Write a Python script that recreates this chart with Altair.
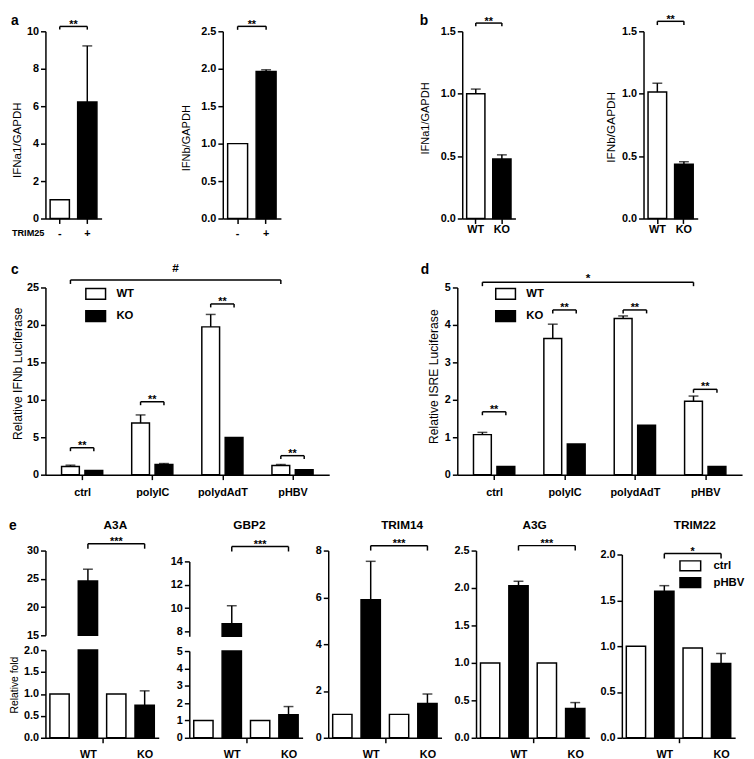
import altair as alt
import pandas as pd

FONT = "Liberation Sans"
BLACK = "black"
LW = 1.5

# ---------------- data ----------------
a_cats = ["-", "+"]
a1_vals = [1.0, 6.22]
a1_errs = [None, 9.22]
a2_vals = [1.0, 1.965]
a2_errs = [None, 1.986]

b_cats = ["WT", "KO"]
b1_vals = [1.0, 0.476]
b1_errs = [1.037, 0.51]
b2_vals = [1.013, 0.434]
b2_errs = [1.084, 0.455]

cd_groups = ["ctrl", "polyIC", "polydAdT", "pHBV"]
cd_geno = ["WT", "KO"]
c_wt = [1.10, 6.89, 19.74, 1.23]
c_wt_err = [1.27, 7.98, 21.40, 1.36]
c_ko = [0.57, 1.36, 4.96, 0.66]
c_ko_err = [None, 1.49, None, None]
c_pair_br = [3.6, 9.74, 22.8, 2.54]

d_wt = [1.07, 3.64, 4.17, 1.96]
d_wt_err = [1.13, 4.02, 4.24, 2.10]
d_ko = [0.22, 0.82, 1.32, 0.22]
d_ko_err = [None, None, None, None]
d_pair_br = [1.68, 4.40, 4.40, 2.28]

e_groups = ["WT", "KO"]
e_conds = ["ctrl", "pHBV"]
e_bar_grp = ["WT", "WT", "KO", "KO"]
e_bar_cond = ["ctrl", "pHBV", "ctrl", "pHBV"]
a3a_vals = [1.0, 24.6, 1.0, 0.74]
a3a_errs = [None, 26.7, None, 1.07]
gbp2_vals = [1.0, 8.65, 1.0, 1.33]
gbp2_errs = [None, 10.2, None, 1.80]
trim14_vals = [1.0, 5.9, 1.0, 1.47]
trim14_errs = [None, 7.54, None, 1.87]
a3g_vals = [1.0, 2.03, 1.0, 0.39]
a3g_errs = [None, 2.09, None, 0.47]
trim22_vals = [1.0, 1.60, 0.98, 0.81]
trim22_errs = [None, 1.66, None, 0.92]


# ---------------- helpers ----------------
def axis_common():
    return dict(domainColor=BLACK, domainWidth=LW, tickColor=BLACK, tickWidth=LW, tickSize=5,
                grid=False, labelFont=FONT, labelFontSize=11, labelFontWeight="bold",
                labelColor=BLACK, labelOverlap=False)


def y_axis(values, fmt, title=None, tx=0, ty=0, fs=12):
    kw = axis_common()
    kw.update(values=values, format=fmt, labelPadding=2, orient="left")
    if title is None:
        kw["title"] = None
    else:
        kw.update(title=title, titleX=tx, titleY=ty, titleAlign="center", titleBaseline="middle",
                  titleFont=FONT, titleFontSize=fs, titleFontWeight="normal", titleColor=BLACK)
    return alt.Axis(**kw)


def x_axis(pad=4, **extra):
    kw = axis_common()
    kw.update(title=None, labelAngle=0, labelPadding=pad, orient="bottom")
    kw.update(extra)
    return alt.Axis(**kw)


def letter(t, x, y):
    return alt.Chart(pd.DataFrame({"t": [t]})).mark_text(
        font=FONT, fontSize=14, fontWeight="bold", color=BLACK, align="left", baseline="top"
    ).encode(x=alt.value(x), y=alt.value(y), text="t:N")


def spacer(w, h=10):
    return alt.Chart(pd.DataFrame({"v": [0]})).mark_point(opacity=0).encode(
        x=alt.value(0), y=alt.value(0)).properties(width=w, height=h)


def row(*charts):
    return alt.hconcat(*charts, spacing=0, bounds="flush").resolve_scale(fill="independent")


def txt(df, **mk):
    props = dict(font=FONT, fontSize=11, fontWeight="bold", color=BLACK, baseline="alphabetic")
    props.update(mk)
    return alt.Chart(df).mark_text(**props)


def simple_panel(cats, vals, errs, ymax, yvals, yfmt, ytitle, tx, ty, tfs, width,
                 br_y, br_lo, let, xextra=None, xpad=4):
    pi, po = 0.3, 0.17
    step = width / (2 - pi + 2 * po)
    xsc = alt.Scale(domain=cats, paddingInner=pi, paddingOuter=po)
    xax = x_axis(pad=xpad, **(xextra or {}))
    ysc = alt.Scale(domain=[0, ymax], nice=False)
    yax = y_axis(yvals, yfmt, ytitle, tx, ty, tfs)

    def X(**kw):
        return alt.X("cat:N", scale=xsc, axis=xax, **kw)

    def Y(f):
        return alt.Y(f + ":Q", scale=ysc, axis=yax)

    df = pd.DataFrame({"cat": cats, "val": vals, "err": errs})
    bars = alt.Chart(df).mark_bar(stroke=BLACK, strokeWidth=LW).encode(
        x=X(), y=Y("val"),
        fill=alt.condition(alt.datum.cat == cats[0], alt.value("white"), alt.value("black")))
    edf = df.dropna(subset=["err"])
    erule = alt.Chart(edf).mark_rule(color=BLACK, strokeWidth=LW).encode(
        x=X(), y=Y("val"), y2=alt.Y2("err"))
    ecap = alt.Chart(edf).mark_tick(color=BLACK, thickness=LW, size=10).encode(x=X(), y=Y("err"))
    bdf = pd.DataFrame({"cat": [cats[0]], "cat2": [cats[1]], "by": [br_y]})
    brh = alt.Chart(bdf).mark_rule(color=BLACK, strokeWidth=LW).encode(
        x=X(), x2=alt.X2("cat2"), y=Y("by"))
    bedf = pd.DataFrame({"cat": cats, "by": [br_y] * 2, "blo": [br_lo] * 2})
    bre = alt.Chart(bedf).mark_rule(color=BLACK, strokeWidth=LW).encode(
        x=X(), y=Y("by"), y2=alt.Y2("blo"))
    sdf = pd.DataFrame({"cat": [cats[1]], "by": [br_y], "s": ["**"]})
    stars = txt(sdf, dy=2, dx=-pi * step / 2).encode(
        x=X(bandPosition=0), y=Y("by"), text="s:N")
    layers = [bars, erule, ecap, brh, bre, stars]
    if let is not None:
        layers.append(letter(*let))
    return alt.layer(*layers).properties(width=width, height=190)


def group_panel(wt, wt_err, ko, ko_err, pair_br, long_y, long_sym, long_dy, ymax, yvals,
                ytitle, tx, ty, width, lx, let):
    # one band per bar, with an empty band between treatment groups
    keys = []
    for i, g in enumerate(cd_groups):
        keys += [g + "|WT", g + "|KO"]
        if i < len(cd_groups) - 1:
            keys.append("gap%d" % i)
    pi, po = 0.24, 0.69
    step = width / (len(keys) - pi + 2 * po)
    half_gap = pi * step / 2
    xsc = alt.Scale(domain=keys, paddingInner=pi, paddingOuter=po)
    xax = x_axis(pad=7, values=[g + "|KO" for g in cd_groups], tickOffset=-step / 2,
                 labelExpr="split(datum.value, '|')[0]")
    ysc = alt.Scale(domain=[0, ymax], nice=False)
    yax = y_axis(yvals, "d", ytitle, tx, ty, 12.3)
    pxu = 190.0 / ymax

    def X(f="key", **kw):
        return alt.X(f + ":N", scale=xsc, axis=xax, **kw)

    def Y(f):
        return alt.Y(f + ":Q", scale=ysc, axis=yax)

    df = pd.DataFrame({"grp": cd_groups * 2, "geno": ["WT"] * 4 + ["KO"] * 4,
                       "val": wt + ko, "err": wt_err + ko_err})
    df["key"] = df["grp"] + "|" + df["geno"]
    leg = alt.Legend(title=None, orient="none", legendX=lx, legendY=-4.5, direction="vertical",
                     symbolType="M-1,-0.55H1V0.55H-1Z", symbolSize=400,
                     symbolStrokeColor=BLACK, symbolStrokeWidth=LW, labelFont=FONT,
                     labelFontSize=11.5, labelFontWeight="bold", labelColor=BLACK,
                     labelOffset=10, rowPadding=2.5, padding=0)
    bars = alt.Chart(df).mark_bar(stroke=BLACK, strokeWidth=LW).encode(
        x=X(), y=Y("val"),
        fill=alt.Fill("geno:N", scale=alt.Scale(domain=cd_geno, range=["white", "black"]),
                      legend=leg))
    edf = df.dropna(subset=["err"])
    erule = alt.Chart(edf).mark_rule(color=BLACK, strokeWidth=LW).encode(
        x=X(), y=Y("val"), y2=alt.Y2("err"))
    ecap = alt.Chart(edf).mark_tick(color=BLACK, thickness=LW, size=10).encode(
        x=X(), y=Y("err"))
    drop = 3.5 / pxu
    pb = pd.DataFrame({"key": [g + "|WT" for g in cd_groups],
                       "key2": [g + "|KO" for g in cd_groups], "by": pair_br, "s": ["**"] * 4})
    pair_h = alt.Chart(pb).mark_rule(color=BLACK, strokeWidth=LW).encode(
        x=X(), x2=alt.X2("key2"), y=Y("by"))
    pe = df[["key"]].copy()
    pe["by"] = pair_br * 2
    pe["blo"] = [v - drop for v in pair_br] * 2
    pair_e = alt.Chart(pe).mark_rule(color=BLACK, strokeWidth=LW).encode(
        x=X(), y=Y("by"), y2=alt.Y2("blo"))
    pair_s = txt(pb, dy=1, dx=-half_gap).encode(
        x=X("key2", bandPosition=0), y=Y("by"), text="s:N")
    ends = ["ctrl|WT", "pHBV|WT"]
    ldf = pd.DataFrame({"key": [ends[0]], "key2": [ends[1]], "by": [long_y]})
    long_h = alt.Chart(ldf).mark_rule(color=BLACK, strokeWidth=LW).encode(
        x=X(), x2=alt.X2("key2"), y=Y("by"))
    le = pd.DataFrame({"key": ends, "by": [long_y] * 2, "blo": [long_y - 4.0 / pxu] * 2})
    long_e = alt.Chart(le).mark_rule(color=BLACK, strokeWidth=LW).encode(
        x=X(), y=Y("by"), y2=alt.Y2("blo"))
    mid = keys[(keys.index(ends[0]) + keys.index(ends[1]) + 1) // 2]
    lsd = pd.DataFrame({"key": [mid], "by": [long_y], "s": [long_sym]})
    long_s = txt(lsd, fontSize=12, dx=-half_gap, dy=long_dy).encode(
        x=X(bandPosition=0), y=Y("by"), text="s:N")
    layers = [bars, erule, ecap, pair_h, pair_e, pair_s, long_h, long_e, long_s, letter(*let)]
    return alt.layer(*layers).properties(width=width, height=190)


def e_panel(vals, errs, segments, ytitle=None, tx=0, ty=0, tfs=10.5, title=None,
            title_dx=0, title_y=-21.7, br=None, legend_xy=None, let=None, width=115):
    keys = [g + "|" + c for g in e_groups for c in e_conds]
    pi, po = 0.32, 0.157
    step = width / (len(keys) - pi + 2 * po)
    xsc = alt.Scale(domain=keys, paddingInner=pi, paddingOuter=po)
    xax = x_axis(pad=6, values=["WT|pHBV", "KO|ctrl", "KO|pHBV"], tickOffset=-step / 2,
                 labelOffset=step / 2,
                 labelExpr="datum.value == 'KO|ctrl' ? '' : split(datum.value, '|')[0]",
                 tickOpacity={"condition": {"test": "datum.value == 'KO|ctrl'", "value": 1},
                              "value": 0})

    def X(f="key", **kw):
        return alt.X(f + ":N", scale=xsc, axis=xax, **kw)

    df = pd.DataFrame({"grp": e_bar_grp, "cond": e_bar_cond, "val": vals, "err": errs})
    df["key"] = df["grp"] + "|" + df["cond"]
    if legend_xy is not None:
        leg = alt.Legend(title=None, orient="none", legendX=legend_xy[0], legendY=legend_xy[1],
                         direction="vertical", symbolType="M-1.4,-0.67H1.4V0.67H-1.4Z",
                         symbolSize=225, symbolStrokeColor=BLACK, symbolStrokeWidth=LW,
                         labelFont=FONT, labelFontSize=11.5, labelFontWeight="bold",
                         labelColor=BLACK, labelOffset=15, rowPadding=0, padding=0)
        fill = alt.Fill("cond:N", scale=alt.Scale(domain=e_conds, range=["white", "black"]),
                        legend=leg)
    else:
        fill = alt.condition(alt.datum.cond == "ctrl", alt.value("white"), alt.value("black"))

    seg_layers = []
    for i, (dom, rng, yvals, fmt) in enumerate(segments):
        lo, hi = dom
        last = i == len(segments) - 1
        ysc = alt.Scale(domain=[lo, hi], range=rng, nice=False, zero=False, clamp=(i > 0))
        yax = y_axis(yvals, fmt, ytitle if last else None, tx, ty, tfs)

        def Y(f, ysc=ysc, yax=yax):
            return alt.Y(f + ":Q", scale=ysc, axis=yax)

        sub = df[df["val"] > lo].copy()
        sub["base"] = lo
        ls = [alt.Chart(sub).mark_bar(stroke=BLACK, strokeWidth=LW).encode(
            x=X(), y=Y("val"), y2=alt.Y2("base"), fill=fill)]
        edf = df.dropna(subset=["err"])
        edf = edf[(edf["err"] > lo) & (edf["err"] <= hi)]
        ls.append(alt.Chart(edf).mark_rule(color=BLACK, strokeWidth=LW).encode(
            x=X(), y=Y("val"), y2=alt.Y2("err")))
        ls.append(alt.Chart(edf).mark_tick(color=BLACK, thickness=LW, size=10).encode(
            x=X(), y=Y("err")))
        if i == 0:
            if br is not None:
                by, blo, s = br
                bdf = pd.DataFrame({"key": ["WT|pHBV"], "key2": ["KO|pHBV"], "by": [by]})
                ls.append(alt.Chart(bdf).mark_rule(color=BLACK, strokeWidth=LW).encode(
                    x=X(), x2=alt.X2("key2"), y=Y("by")))
                bedf = pd.DataFrame({"key": ["WT|pHBV", "KO|pHBV"], "by": [by] * 2,
                                     "blo": [blo] * 2})
                ls.append(alt.Chart(bedf).mark_rule(color=BLACK, strokeWidth=LW).encode(
                    x=X(), y=Y("by"), y2=alt.Y2("blo")))
                sdf = pd.DataFrame({"key": ["KO|ctrl"], "by": [by], "s": [s]})
                ls.append(txt(sdf, dy=1).encode(x=X(), y=Y("by"), text="s:N"))
            if title is not None:
                tdf = pd.DataFrame({"key": ["KO|ctrl"], "t": [title]})
                ls.append(txt(tdf, fontSize=12, dx=title_dx - pi * step / 2).encode(
                    x=X(bandPosition=0), y=alt.value(title_y), text="t:N"))
            if let is not None:
                ls.append(letter(*let))
        seg_layers.append(alt.layer(*ls))
    if len(seg_layers) == 1:
        out = seg_layers[0]
    else:
        out = alt.layer(*seg_layers).resolve_scale(y="independent").resolve_axis(y="independent")
    return out.properties(width=width, height=190)


# ---------------- row 1 : panels a, b ----------------
a1 = simple_panel(a_cats, a1_vals, a1_errs, 10, [0, 2, 4, 6, 8, 10], "d", "IFNa1/GAPDH",
                  -29, 110, 11.7, 57, 10.26, 10.09, ("a", -35, -17),
                  dict(title="TRIM25", titleX=-1.5, titleY=14, titleAlign="right",
                       titleBaseline="middle", titleAngle=0, titleFont=FONT, titleFontSize=9.3,
                       titleFontWeight="bold", titleColor=BLACK))
a2 = simple_panel(a_cats, a2_vals, a2_errs, 2.5, [0, 0.5, 1, 1.5, 2, 2.5], ".1f", "IFNb/GAPDH",
                  -37, 108, 11.2, 59, 2.566, 2.52, None)
b1 = simple_panel(b_cats, b1_vals, b1_errs, 1.5, [0, 0.5, 1, 1.5], ".1f", "IFNa1/GAPDH",
                  -37, 88, 11.2, 54, 1.566, 1.54, ("b", -43, -17), xpad=0)
b2 = simple_panel(b_cats, b2_vals, b2_errs, 1.5, [0, 0.5, 1, 1.5], ".1f", "IFNb/GAPDH",
                  -33, 97, 12, 55, 1.58, 1.55, None, xpad=0)
row1 = row(a1, spacer(123), a2, spacer(184), b1, spacer(130), b2)

# ---------------- row 2 : panels c, d ----------------
c = group_panel(c_wt, c_wt_err, c_ko, c_ko_err, c_pair_br, 26.0, "#", -8, 25,
                [0, 5, 10, 15, 20, 25], "Relative IFNb Luciferase", -28.5, 87, 288, 40,
                ("c", -35, -25))
d = group_panel(d_wt, d_wt_err, d_ko, d_ko_err, d_pair_br, 5.14, "*", 0, 5,
                [0, 1, 2, 3, 4, 5], "Relative ISRE Luciferase", -24, 90, 289, 38,
                ("d", -37, -25))
row2 = row(c, spacer(130), d)

# ---------------- row 3 : panel e ----------------
a3a = e_panel(a3a_vals, a3a_errs,
              [([15, 30], [86, 0], [15, 20, 25, 30], "d"),
               ([0, 2], [190, 101], [0, 0.5, 1, 1.5, 2], ".1f")],
              ytitle="Relative fold", tx=-31, ty=136, tfs=10.5,
              title="A3A", title_dx=13.5, br=(31.2, 30.33, "***"), let=("e", -37, -32))
gbp2 = e_panel(gbp2_vals, gbp2_errs,
               [([7.58, 14], [87, 11], [8, 10, 12, 14], "d"),
                ([0, 5], [190, 102], [0, 1, 2, 3, 4, 5], "d")],
               title="GBP2", title_dx=3.5, br=(15.27, 14.85, "***"))
trim14 = e_panel(trim14_vals, trim14_errs, [([0, 8], [190, 0], [0, 2, 4, 6, 8], "d")],
                 title="TRIM14", title_dx=17.5, br=(8.21, 8.0, "***"))
a3g = e_panel(a3g_vals, a3g_errs,
              [([0, 2.5], [190, 0], [0, 0.5, 1, 1.5, 2, 2.5], ".1f")],
              title="A3G", title_dx=2, br=(2.566, 2.5, "***"))
trim22 = e_panel(trim22_vals, trim22_errs,
                 [([0, 2], [190, 4], [0, 0.5, 1, 1.5, 2], ".1f")],
                 title="TRIM22", title_dx=16.5, br=(2.01, 1.956, "*"), legend_xy=(61, 7))
row3 = row(a3a, spacer(31), gbp2, spacer(26), trim14, spacer(35), a3g, spacer(33), trim22)

top = alt.vconcat(row1, row2, spacing=22).resolve_scale(fill="independent")
chart = alt.vconcat(top, row3, spacing=20).resolve_scale(fill="independent").properties(
    padding=0, background="white"
).configure(font=FONT).configure_view(stroke="transparent")

chart.save("out.html", embed_options={"renderer": "svg", "actions": False})
